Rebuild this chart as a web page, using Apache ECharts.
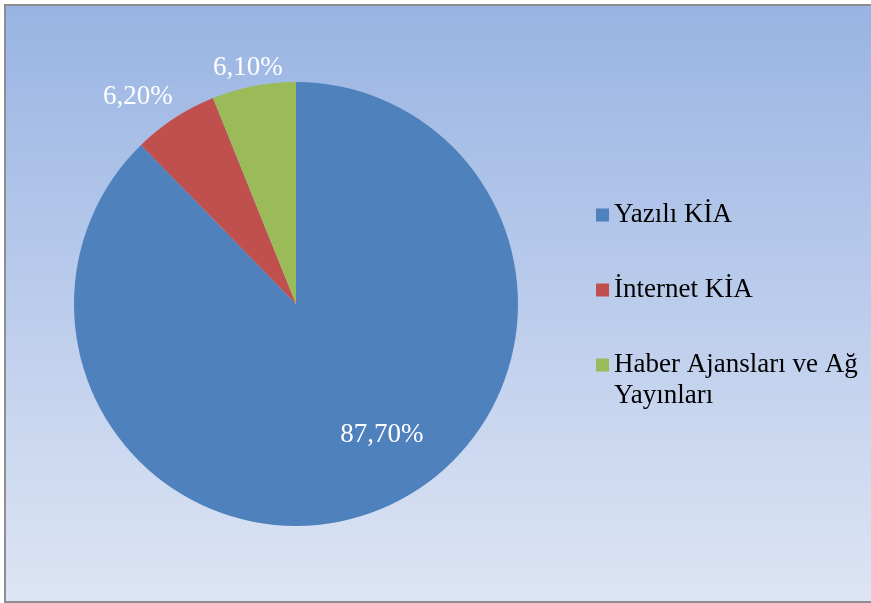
<!DOCTYPE html>
<html>
<head>
<meta charset="utf-8">
<script src="https://cdn.jsdelivr.net/npm/echarts@6/dist/echarts.min.js"></script>
<style>
  html, body { margin: 0; padding: 0; background: #fff; overflow: hidden; }
  #chart {
    position: absolute; left: 4px; top: 4px;
    width: 880px; height: 595px;
    border: 2px solid #8e8e8e;
  }
</style>
</head>
<body>
<div id="chart"></div>
<script>
// slice names and shares (%)
var categories = ['Yazılı KİA', 'İnternet KİA', 'Haber Ajansları ve Ağ\nYayınları']
var values = [87.7, 6.2, 6.1]
var colors = ['#4f81bd', '#c0504d', '#9bbb59']

// label nudges so they sit where the original put them
var labelShift = [[43, 25], [3, -21], [34, -18]]

var font = 'Liberation Serif, Times New Roman, serif'

var pieData = categories.map(function (name, i) {
    return {
        name: name,
        value: values[i],
        itemStyle: { color: colors[i] },
        label: { position: i === 0 ? 'inside' : 'outside' }
    }
})

var legendText = { fontFamily: font, fontSize: 27, lineHeight: 31, color: '#000' }

var chart = echarts.init(document.getElementById('chart'))
chart.setOption({
    animation: false,
    backgroundColor: {
        type: 'linear', x: 0, y: 0, x2: 0, y2: 1,
        colorStops: [
            { offset: 0, color: '#99b4e3' },
            { offset: 1, color: '#dde5f4' }
        ]
    },
    legend: [{
        orient: 'vertical',
        left: 590,
        top: 193.5,
        padding: 0,
        itemGap: 44,
        itemWidth: 13,
        itemHeight: 13,
        icon: 'rect',
        selectedMode: false,
        data: [categories[0], categories[1]],
        textStyle: legendText
    }, {
        // two-line entry: blank first line so the box lines up with "Haber..."
        orient: 'vertical',
        left: 590,
        top: 312.5,
        padding: 0,
        itemWidth: 13,
        itemHeight: 13,
        icon: 'rect',
        selectedMode: false,
        data: [categories[2]],
        formatter: function (name) { return ' \n' + name },
        textStyle: legendText
    }],
    series: [{
        type: 'pie',
        center: [290, 298],
        radius: 222,
        startAngle: 90,
        clockwise: true,
        avoidLabelOverlap: false,
        emphasis: { disabled: true },
        itemStyle: { borderWidth: 0 },
        label: {
            show: true,
            formatter: function (p) { return p.value.toFixed(2).replace('.', ',') + '%' },
            color: '#fff',
            fontFamily: font,
            fontSize: 27,
            textBorderWidth: 0
        },
        labelLine: { show: false, length: 0, length2: 0 },
        labelLayout: function (params) {
            var s = labelShift[params.dataIndex]
            return { dx: s[0], dy: s[1] }
        },
        data: pieData
    }]
})
</script>
</body>
</html>
